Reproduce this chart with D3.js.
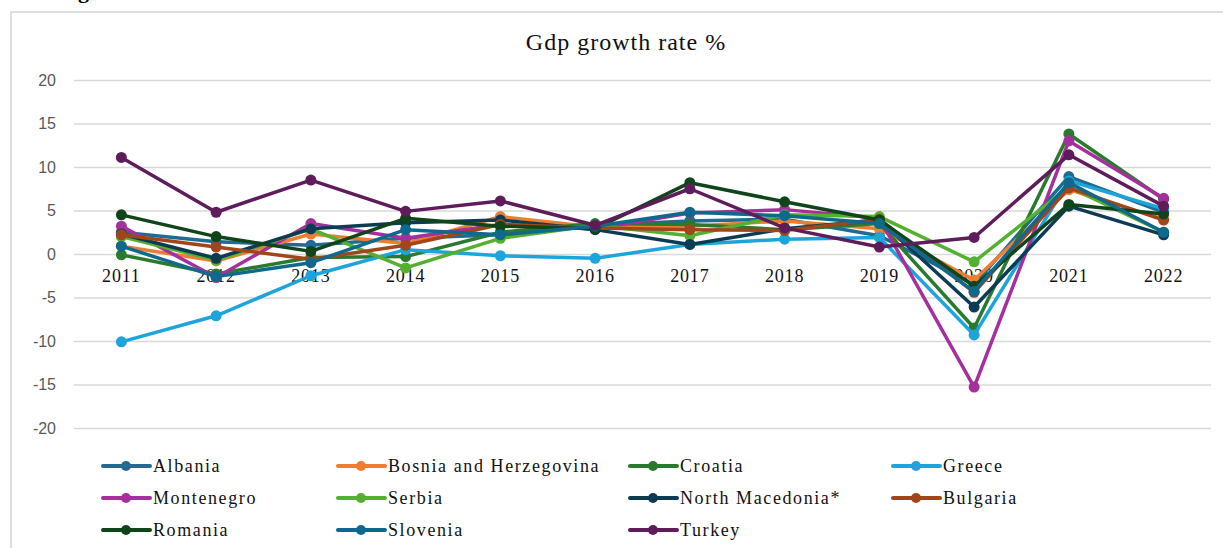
<!DOCTYPE html>
<html>
<head>
<meta charset="utf-8">
<script src="https://cdn.jsdelivr.net/npm/d3@7"></script>
<style>
  body { margin: 0; background: #fff; }
  svg { display: block; }
</style>
</head>
<body>
<div id="chart"></div>
<script>
let years = ['2011', '2012', '2013', '2014', '2015', '2016', '2017', '2018', '2019', '2020', '2021', '2022'];
let y_ticks = [-20, -15, -10, -5, 0, 5, 10, 15, 20];

let country_list = ['Albania', 'Bosnia and Herzegovina', 'Croatia', 'Greece', 'Montenegro', 'Serbia',
    'North Macedonia*', 'Bulgaria', 'Romania', 'Slovenia', 'Turkey'];

let color_list = ['#216a91', '#ed7d31', '#2a7a2e', '#1ea4dc', '#a5309d', '#55b031',
    '#0d3b53', '#a2451b', '#10441a', '#0f698c', '#5e1c5b'];

let albania    = [2.5, 1.4, 1.0, 1.8, 2.2, 3.3, 3.8, 4.0, 2.1, -3.5, 8.9, 4.8];
let bosnia     = [0.9, -0.8, 2.3, 1.2, 4.3, 3.1, 3.2, 3.8, 2.9, -3.0, 7.4, 4.0];
let croatia    = [-0.1, -2.3, -0.4, -0.3, 2.5, 3.5, 3.4, 2.8, 3.5, -8.5, 13.8, 6.3];
let greece     = [-10.1, -7.1, -2.5, 0.5, -0.2, -0.5, 1.1, 1.7, 1.9, -9.3, 8.4, 5.2];
let montenegro = [3.2, -2.7, 3.5, 1.8, 3.4, 2.9, 4.7, 5.1, 4.1, -15.3, 13.0, 6.4];
let serbia     = [2.0, -0.7, 2.9, -1.6, 1.8, 3.3, 2.1, 4.5, 4.3, -0.9, 7.7, 2.5];
let macedonia  = [2.3, -0.5, 2.9, 3.6, 3.9, 2.8, 1.1, 2.9, 3.9, -6.1, 5.5, 2.2];
let bulgaria   = [2.2, 0.8, -0.6, 1.0, 3.4, 3.0, 2.8, 2.7, 4.0, -4.4, 7.6, 3.9];
let romania    = [4.5, 2.0, 0.3, 4.1, 3.2, 2.9, 8.2, 6.0, 3.9, -3.7, 5.7, 4.6];
let slovenia   = [0.9, -2.6, -1.0, 2.8, 2.2, 3.2, 4.8, 4.4, 3.5, -4.3, 8.2, 2.5];
let turkey     = [11.1, 4.8, 8.5, 4.9, 6.1, 3.3, 7.5, 3.0, 0.8, 1.9, 11.4, 5.5];

let series_values = [albania, bosnia, croatia, greece, montenegro, serbia,
    macedonia, bulgaria, romania, slovenia, turkey];

function draw_chart() {
    let width = 1223, height = 548;
    let svg = d3.select('#chart')
        .append('svg')
        .attr('width', width)
        .attr('height', height);

    // frame of the figure (right / bottom edges are off the page)
    svg.append('rect')
        .attr('x', 11).attr('y', 12)
        .attr('width', 1240).attr('height', 560)
        .attr('fill', 'none')
        .attr('stroke', '#d4d4d4')
        .attr('stroke-width', 1.5);

    // cut heading above the frame
    svg.append('text')
        .attr('x', 78).attr('y', -2)
        .attr('font-family', 'Liberation Serif')
        .attr('font-weight', 'bold')
        .attr('font-size', 22)
        .text('g');

    let x = d3.scalePoint()
        .domain(years)
        .range([74, 1211])
        .padding(0.5);
    let y = d3.scaleLinear()
        .domain([-20, 20])
        .range([428, 80]);

    svg.append('text')
        .attr('x', 626).attr('y', 50)
        .attr('text-anchor', 'middle')
        .attr('font-family', 'Liberation Serif')
        .attr('font-size', 24)
        .attr('letter-spacing', 1)
        .attr('fill', '#111')
        .text('Gdp growth rate %');

    let yAxis = svg.append('g')
        .attr('transform', 'translate(74,0)')
        .call(d3.axisLeft(y).tickValues(y_ticks).tickSize(-1137).tickPadding(18)
            .tickFormat(d => String(d)));
    yAxis.select('.domain').remove();
    yAxis.selectAll('.tick line')
        .attr('stroke', '#d9d9d9')
        .attr('stroke-width', 1.5);
    yAxis.selectAll('.tick text')
        .attr('font-family', 'Liberation Sans')
        .attr('font-size', 16)
        .attr('fill', '#595959');

    // category labels sit just under the zero line
    svg.append('g')
        .selectAll('text')
        .data(years)
        .join('text')
        .attr('x', d => x(d))
        .attr('y', y(0) + 28)
        .attr('text-anchor', 'middle')
        .attr('font-family', 'Liberation Serif')
        .attr('font-size', 18)
        .attr('letter-spacing', 0.8)
        .attr('fill', '#111')
        .text(d => d);

    let line = d3.line()
        .x((d, i) => x(years[i]))
        .y(d => y(d));

    let lines = svg.append('g');
    for (let i = 0; i < country_list.length; i++) {
        let g = lines.append('g');
        g.append('path')
            .attr('d', line(series_values[i]))
            .attr('fill', 'none')
            .attr('stroke', color_list[i])
            .attr('stroke-width', 3.5)
            .attr('stroke-linejoin', 'round');
        g.selectAll('circle')
            .data(series_values[i])
            .join('circle')
            .attr('cx', (d, j) => x(years[j]))
            .attr('cy', d => y(d))
            .attr('r', 5.5)
            .attr('fill', color_list[i]);
    }

    // legend, 4 columns x 3 rows
    let col_x = [103, 338, 630, 893];
    let row_y = [466, 498, 530];
    let legend = svg.append('g');
    for (let i = 0; i < country_list.length; i++) {
        let cx = col_x[i % 4], cy = row_y[Math.floor(i / 4)];
        legend.append('line')
            .attr('x1', cx).attr('x2', cx + 47)
            .attr('y1', cy).attr('y2', cy)
            .attr('stroke', color_list[i])
            .attr('stroke-width', 4)
            .attr('stroke-linecap', 'round');
        legend.append('circle')
            .attr('cx', cx + 23).attr('cy', cy)
            .attr('r', 5)
            .attr('fill', color_list[i]);
        legend.append('text')
            .attr('x', cx + 50).attr('y', cy + 6)
            .attr('font-family', 'Liberation Serif')
            .attr('font-size', 18)
            .attr('letter-spacing', 1.6)
            .attr('fill', '#111')
            .text(country_list[i]);
    }
}

draw_chart();
</script>
</body>
</html>
